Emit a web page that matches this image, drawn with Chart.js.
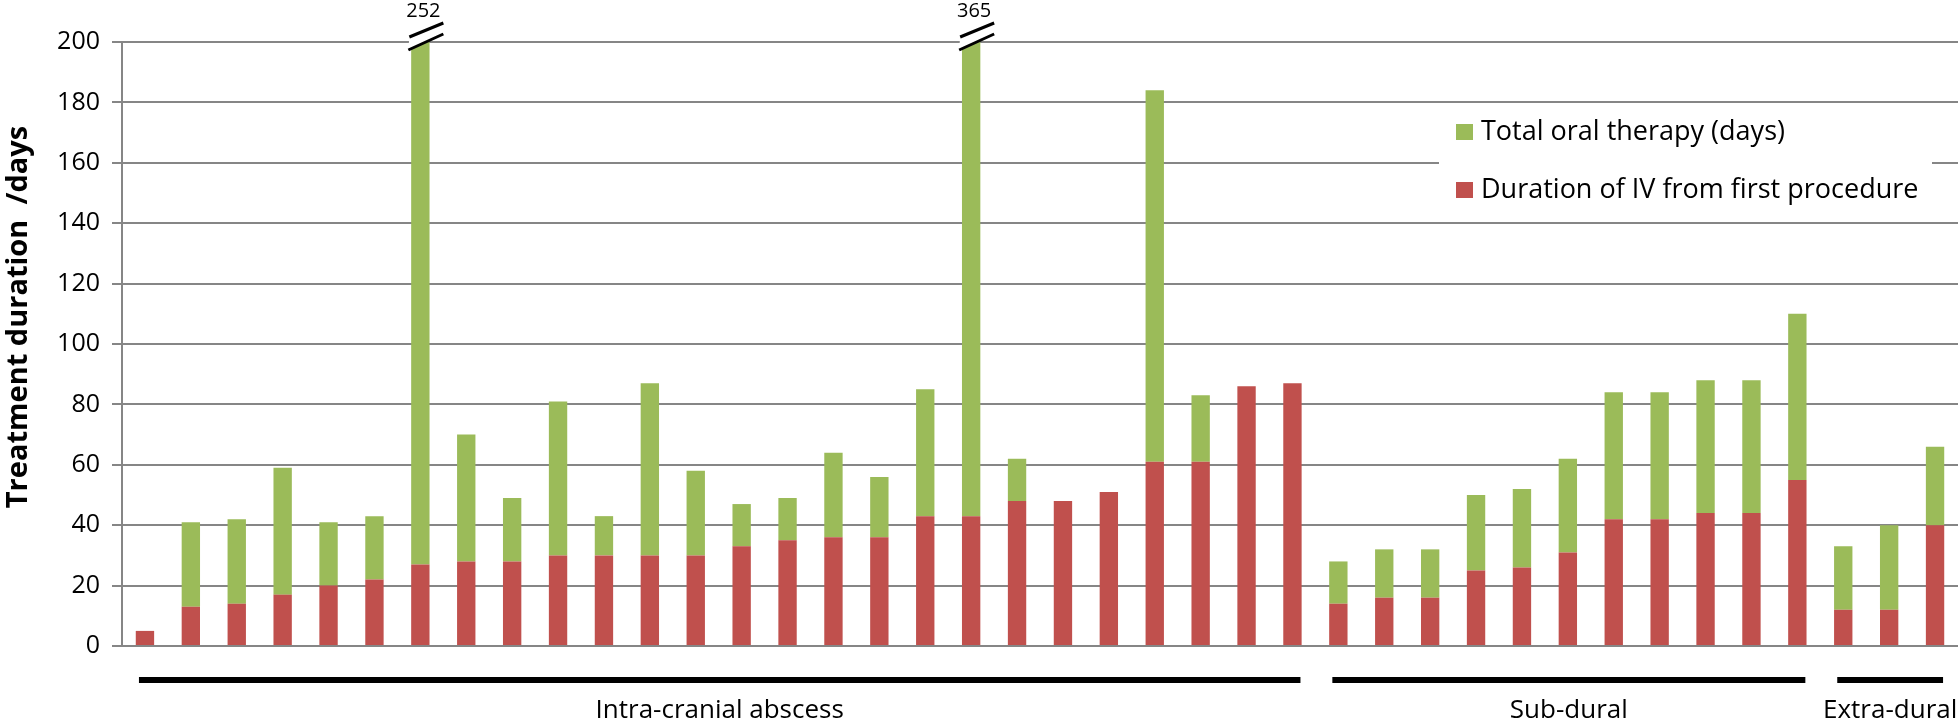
<!DOCTYPE html>
<html>
<head>
<meta charset="utf-8">
<script src="https://cdn.jsdelivr.net/npm/chart.js@4/dist/chart.umd.min.js"></script>
<style>
  body { margin: 0; background: #fff; }
  #wrap { width: 1960px; height: 728px; }
</style>
</head>
<body>
<div id="wrap"><canvas id="c" width="1960" height="728"></canvas></div>
<script>
// patients, sorted within each group
const patients = Array.from({ length: 40 }, (_, i) => 'P' + (i + 1));

const ivDays = [5, 13, 14, 17, 20, 22, 27, 28, 28, 30, 30, 30, 30, 33, 35, 36, 36, 43, 43, 48, 48, 51, 61, 61, 86, 87,
                14, 16, 16, 25, 26, 31, 42, 42, 44, 44, 55,
                12, 12, 40];
const oralDays = [0, 28, 28, 42, 21, 21, 225, 42, 21, 51, 13, 57, 28, 14, 14, 28, 20, 42, 322, 14, 0, 0, 123, 22, 0, 0,
                  14, 16, 16, 25, 26, 31, 42, 42, 44, 44, 55,
                  21, 28, 26];

const groupNames = ['Intra-cranial abscess', 'Sub-dural', 'Extra-dural'];
const groupFirst = [0, 26, 37];
const groupLast = [25, 36, 39];

const yTicks = [0, 20, 40, 60, 80, 100, 120, 140, 160, 180, 200];
const yMax = 200;
const yTitle = 'Treatment duration  /days';

const GREEN = '#9BBB59';
const RED = '#C0504D';
const GRID = '#868686';
const FONT = '"Open Sans", Lato, sans-serif';

// bars taller than the axis get a break mark and their total on top
const breakPlugin = {
    id: 'breaks',
    afterDatasetsDraw(chart) {
        const ctx = chart.ctx;
        const x = chart.scales.x, y = chart.scales.y;
        const yTop = y.getPixelForValue(yMax);
        ivDays.forEach((iv, i) => {
            const total = iv + oralDays[i];
            if (total <= yMax) return;
            const cx = x.getPixelForValue(i);
            ctx.save();
            ctx.fillStyle = '#fff';
            ctx.beginPath();
            ctx.moveTo(cx - 11, yTop - 5);
            ctx.lineTo(cx + 23, yTop - 19);
            ctx.lineTo(cx + 23, yTop - 8);
            ctx.lineTo(cx - 12, yTop + 8);
            ctx.closePath();
            ctx.fill();
            ctx.strokeStyle = '#000';
            ctx.lineWidth = 3;
            ctx.beginPath();
            ctx.moveTo(cx - 11, yTop - 5);
            ctx.lineTo(cx + 23, yTop - 19);
            ctx.moveTo(cx - 12, yTop + 8);
            ctx.lineTo(cx + 23, yTop - 8);
            ctx.stroke();
            ctx.fillStyle = '#000';
            ctx.font = '20px ' + FONT;
            ctx.textAlign = 'center';
            ctx.textBaseline = 'middle';
            ctx.fillText(String(total), cx + 3, 11);
            ctx.restore();
        });
    }
};

// group bars and labels under the x axis, rotated y title
const groupPlugin = {
    id: 'groups',
    afterDraw(chart) {
        const ctx = chart.ctx;
        const x = chart.scales.x;
        ctx.save();
        groupNames.forEach((name, g) => {
            const x0 = x.getPixelForValue(groupFirst[g]) - 6;
            const x1 = x.getPixelForValue(groupLast[g]) + 8;
            ctx.fillStyle = '#000';
            ctx.fillRect(x0, 677, x1 - x0, 6);
            ctx.font = '26px ' + FONT;
            ctx.textAlign = 'center';
            ctx.textBaseline = 'middle';
            ctx.fillText(name, (x0 + x1) / 2, 711);
        });
        ctx.translate(19, 317);
        ctx.rotate(-Math.PI / 2);
        ctx.font = 'bold 29px ' + FONT;
        ctx.fillText(yTitle, 0, 0);
        ctx.restore();
    }
};

// legend placed inside the plot, over the grid
const legendPlugin = {
    id: 'innerLegend',
    afterDraw(chart) {
        const ctx = chart.ctx;
        const items = [chart.data.datasets[1], chart.data.datasets[0]];
        ctx.save();
        ctx.fillStyle = '#fff';
        ctx.fillRect(1439, 112, 493, 100);
        items.forEach((ds, k) => {
            const yc = 132 + k * 58;
            ctx.fillStyle = ds.backgroundColor;
            ctx.fillRect(1456, yc - 8, 17, 16);
            ctx.fillStyle = '#000';
            ctx.font = '27px ' + FONT;
            ctx.textAlign = 'left';
            ctx.textBaseline = 'middle';
            ctx.fillText(ds.label, 1481, yc);
        });
        ctx.restore();
    }
};

new Chart(document.getElementById('c'), {
    type: 'bar',
    data: {
        labels: patients,
        datasets: [
            { label: 'Duration of IV from first procedure', data: ivDays, backgroundColor: RED },
            { label: 'Total oral therapy (days)', data: oralDays, backgroundColor: GREEN }
        ]
    },
    options: {
        responsive: false,
        animation: false,
        layout: { padding: { left: 0, right: 2, top: 42, bottom: 82 } },
        datasets: {
            bar: { categoryPercentage: 1, barPercentage: 0.4 }
        },
        plugins: {
            legend: { display: false },
            tooltip: { enabled: false }
        },
        scales: {
            x: {
                stacked: true,
                display: false
            },
            y: {
                stacked: true,
                min: 0,
                max: yMax,
                afterFit(scale) { scale.width = 122; },
                afterBuildTicks(scale) { scale.ticks = yTicks.map(v => ({ value: v })); },
                grid: { color: GRID, lineWidth: 2, tickLength: 10, tickColor: GRID },
                border: { color: GRID, width: 2 },
                ticks: {
                    color: '#000',
                    padding: 12,
                    font: { family: FONT, size: 25 }
                }
            }
        }
    },
    plugins: [breakPlugin, groupPlugin, legendPlugin]
});
</script>
</body>
</html>
